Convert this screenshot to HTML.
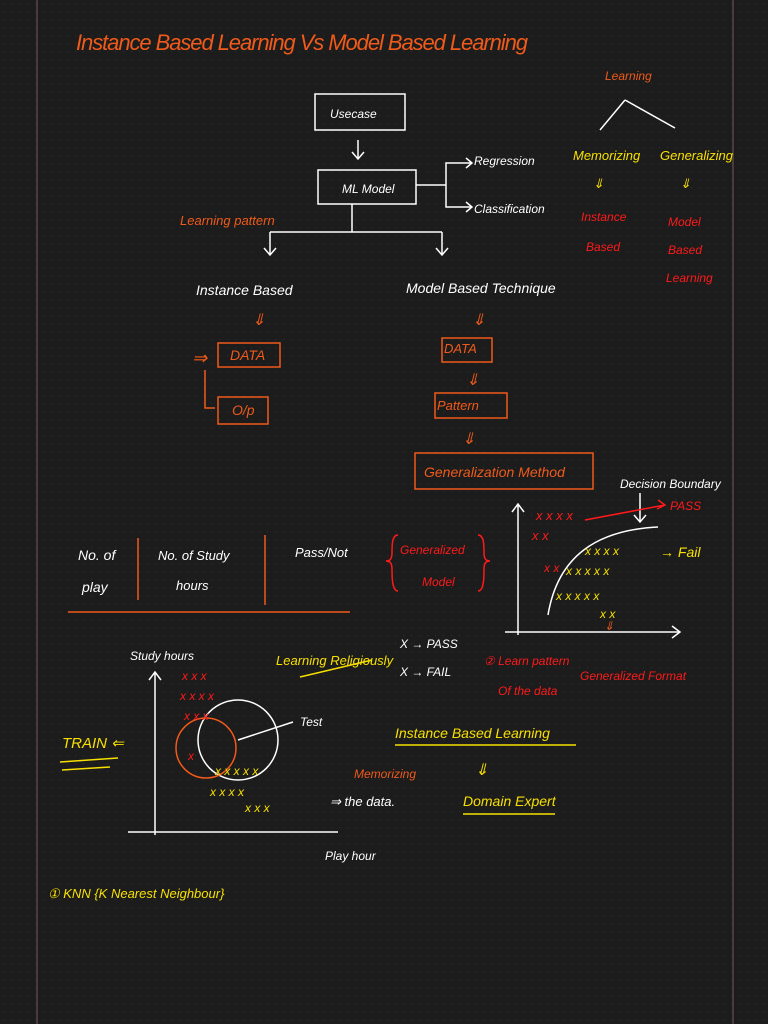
<!DOCTYPE html>
<html><head><meta charset="utf-8"><style>
html,body{margin:0;padding:0;background:#1c1c1c;}
svg{display:block}
text{font-family:"Liberation Sans",sans-serif;font-style:italic}
</style></head><body>
<svg width="768" height="1024" viewBox="0 0 768 1024" xmlns="http://www.w3.org/2000/svg">
<defs><pattern id="d" width="8" height="8" patternUnits="userSpaceOnUse"><rect x="3" y="3" width="1.2" height="1.2" fill="#2b2b2b"/></pattern></defs>
<rect width="768" height="1024" fill="#1c1c1c"/>
<rect width="768" height="1024" fill="url(#d)"/>
<line x1="37" y1="0" x2="37" y2="1024" stroke="#4a3a3e" stroke-width="2"/>
<line x1="733" y1="0" x2="733" y2="1024" stroke="#4a3a3e" stroke-width="2"/>
<g fill="#f05a1a" font-size="22"><text x="76" y="50" textLength="452">Instance Based Learning Vs Model Based Learning</text></g>
<g stroke="#fff" stroke-width="1.5" fill="none">
<rect x="315" y="94" width="90" height="36"/>
<rect x="318" y="170" width="98" height="34"/>
<path d="M358 140v18M352 152l6 7 6-7"/>
<path d="M416 185h30v-22h25M466 158l6 5-6 5M446 185v22h25M466 202l6 5-6 5"/>
<path d="M352 204v28M270 232h172M270 232v22M264 248l6 7 6-7M442 232v22M436 248l6 7 6-7"/>
<path d="M625 100l-25 30M625 100l50 28"/>
<path d="M518 635V505M512 512l6-8 6 8M505 632h175M672 626l8 6-8 6"/>
<path d="M548 615c10-60 50-85 110-88"/>
<path d="M640 493v28M634 515l6 7 6-7"/>
<path d="M155 835V672M149 680l6-8 6 8M128 832h210"/>
<circle cx="238" cy="740" r="40"/>
<path d="M238 740l55-18"/>
</g>
<g fill="#fff" font-size="12">
<text x="330" y="118">Usecase</text>
<text x="342" y="193">ML Model</text>
<text x="474" y="165">Regression</text>
<text x="474" y="213">Classification</text>
<text x="196" y="295" font-size="14">Instance Based</text>
<text x="406" y="293" font-size="14">Model Based Technique</text>
<text x="620" y="488">Decision Boundary</text>
<text x="78" y="560" font-size="14">No. of</text><text x="82" y="592" font-size="14">play</text>
<text x="158" y="560" font-size="13">No. of Study</text><text x="176" y="590" font-size="13">hours</text>
<text x="295" y="557" font-size="13">Pass/Not</text>
<text x="130" y="660">Study hours</text>
<text x="325" y="860">Play hour</text>
<text x="300" y="726">Test</text>
<text x="330" y="806" font-size="13">⇒ the data.</text>
<text x="400" y="648" fill="#fff">X → PASS</text>
<text x="400" y="676">X → FAIL</text>
</g>
<g fill="#f7e000" font-size="13">
<text x="573" y="160">Memorizing</text><text x="660" y="160">Generalizing</text>
<text x="593" y="188">⇓</text><text x="680" y="188">⇓</text>
<text x="276" y="665">Learning Religiously</text>
<text x="62" y="748" font-size="15">TRAIN ⇐</text>
<text x="395" y="738" font-size="14">Instance Based Learning</text>
<text x="475" y="775" font-size="16">⇓</text>
<text x="463" y="806" font-size="14">Domain Expert</text>
<text x="48" y="898">① KNN {K Nearest Neighbour}</text>
<text x="660" y="557" font-size="14">→ Fail</text>
</g>
<g stroke="#f7e000" stroke-width="1.5"><line x1="60" y1="762" x2="118" y2="758"/><line x1="62" y1="770" x2="110" y2="767"/><line x1="300" y1="677" x2="372" y2="660"/><line x1="395" y1="745" x2="576" y2="745"/><line x1="463" y1="814" x2="555" y2="814"/></g>
<g fill="#f05a1a" font-size="12">
<text x="605" y="80">Learning</text>
<text x="180" y="225" font-size="13">Learning pattern</text>
<text x="192" y="364" font-size="18">⇒</text>
<text x="252" y="325" font-size="16">⇓</text><text x="472" y="325" font-size="16">⇓</text>
<text x="466" y="385" font-size="16">⇓</text><text x="462" y="444" font-size="16">⇓</text>
<text x="230" y="360" font-size="14">DATA</text>
<text x="232" y="415" font-size="14">O/p</text>
<text x="444" y="353" font-size="13">DATA</text>
<text x="437" y="410" font-size="13">Pattern</text>
<text x="424" y="477" font-size="14">Generalization Method</text>
<text x="354" y="778">Memorizing</text>
<text x="604" y="630">⇓</text>
</g>
<g stroke="#f05a1a" stroke-width="1.5" fill="none">
<rect x="218" y="343" width="62" height="24"/>
<rect x="218" y="397" width="50" height="27"/>
<path d="M205 370v38h10"/>
<rect x="442" y="338" width="50" height="24"/>
<rect x="435" y="393" width="72" height="25"/>
<rect x="415" y="453" width="178" height="36"/>
<line x1="68" y1="612" x2="350" y2="612"/>
<line x1="138" y1="538" x2="138" y2="600"/><line x1="265" y1="535" x2="265" y2="605"/>
<circle cx="206" cy="748" r="30"/>
</g>
<g stroke="#ff1a1a" stroke-width="1.5" fill="none"><path d="M398 535c-6 0-6 10-6 18s-4 8-6 8c2 0 6 0 6 8s0 22 6 22M478 535c6 0 6 10 6 18s4 8 6 8c-2 0-6 0-6 8s0 22-6 22"/><path d="M585 520l80-15M658 500l7 5-8 4"/></g>
<g fill="#ff1a1a" font-size="12">
<text x="581" y="221">Instance</text><text x="586" y="251">Based</text>
<text x="668" y="226">Model</text><text x="668" y="254">Based</text><text x="666" y="282">Learning</text>
<text x="400" y="554">Generalized</text><text x="422" y="586">Model</text>
<text x="484" y="665">② Learn pattern</text><text x="498" y="695">Of the data</text>
<text x="580" y="680">Generalized Format</text>
<text x="670" y="510">PASS</text>
<text x="536" y="520" font-size="13">x x x x</text><text x="532" y="540" font-size="13">x x</text><text x="544" y="572">x x</text>
<text x="182" y="680">x x x</text><text x="180" y="700">x x x x</text><text x="184" y="720">x x x</text><text x="188" y="760">x</text>
</g>
<g fill="#f7e000" font-size="12"><text x="585" y="555">x x x x</text><text x="566" y="575">x x x x x</text><text x="556" y="600">x x x x x</text><text x="600" y="618">x x</text>
<text x="215" y="775">x x x x x</text><text x="210" y="796">x x x x</text><text x="245" y="812">x x x</text></g>
</svg>
</body></html>
